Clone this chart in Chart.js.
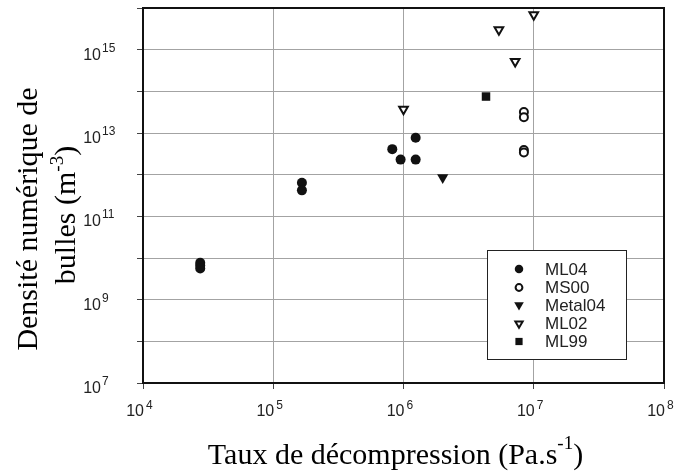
<!DOCTYPE html>
<html>
<head>
<meta charset="utf-8">
<script src="https://cdn.jsdelivr.net/npm/chart.js@4.4.1/dist/chart.umd.min.js"></script>
<style>
  html, body { margin: 0; padding: 0; background: #fff; }
</style>
</head>
<body>
<canvas id="bullesChart" width="679" height="475"></canvas>
<script>
// --- donnees ---
const seriesNames = ['ML04', 'MS00', 'Metal04', 'ML02', 'ML99'];

const ml04X = [2.75e4, 2.75e4, 2.75e4, 1.66e5, 1.66e5, 8.2e5, 9.5e5, 1.24e6, 1.24e6];
const ml04Y = [7.7e9, 6.6e9, 5.6e9, 6.4e11, 4.2e11, 4.1e12, 2.3e12, 7.7e12, 2.3e12];

const ms00X = [8.4e6, 8.4e6, 8.4e6, 8.4e6];
const ms00Y = [3.2e13, 2.4e13, 3.9e12, 3.4e12];

const metal04X = [2.0e6];
const metal04Y = [8.5e11];

const ml02X = [1.0e6, 5.4e6, 7.2e6, 1.0e7];
const ml02Y = [3.7e13, 3.0e15, 5.2e14, 6.9e15];

const ml99X = [4.3e6];
const ml99Y = [7.5e13];

const xTicks = [1e4, 1e5, 1e6, 1e7, 1e8];
const yTicks = [1e7, 1e8, 1e9, 1e10, 1e11, 1e12, 1e13, 1e14, 1e15, 1e16];
const yLabelled = [1e7, 1e9, 1e11, 1e13, 1e15];

function pts(xs, ys) {
    return xs.map((x, i) => ({ x: x, y: ys[i] }));
}

const SANS = '"Liberation Sans", Arial, sans-serif';
const SERIF = '"Liberation Serif", "Times New Roman", serif';

// texte avec exposant
function supText(ctx, parts, x, y) {
    // parts: [text, font, dy]
    let cx = x;
    parts.forEach(p => {
        ctx.font = p[1];
        ctx.fillText(p[0], cx, y + p[2]);
        cx += ctx.measureText(p[0]).width;
    });
    return cx - x;
}
function supWidth(ctx, parts) {
    let w = 0;
    parts.forEach(p => { ctx.font = p[1]; w += ctx.measureText(p[0]).width; });
    return w;
}

const decor = {
    id: 'decor',
    beforeDatasetsDraw(chart) {
        const { ctx, chartArea: a } = chart;
        ctx.save();
        ctx.strokeStyle = '#111';
        ctx.lineWidth = 2;
        ctx.strokeRect(a.left, a.top, a.right - a.left, a.bottom - a.top);
        ctx.restore();
    },
    afterDraw(chart) {
        const ctx = chart.ctx;
        const xs = chart.scales.x, ys = chart.scales.y;
        ctx.save();
        ctx.fillStyle = '#222';
        ctx.textBaseline = 'alphabetic';

        // etiquettes axe x
        xTicks.forEach(v => {
            const px = xs.getPixelForValue(v);
            const e = Math.round(Math.log10(v));
            ctx.font = '16px ' + SANS;
            ctx.textAlign = 'right';
            ctx.fillText('10', px + 1, 416);
            ctx.font = '12px ' + SANS;
            ctx.textAlign = 'left';
            ctx.fillText(String(e), px + 3, 409);
        });

        // etiquettes axe y
        yLabelled.forEach(v => {
            const py = ys.getPixelForValue(v);
            const e = Math.round(Math.log10(v));
            ctx.font = '16px ' + SANS;
            ctx.textAlign = 'right';
            ctx.fillText('10', 101, py + 10);
            ctx.font = '12px ' + SANS;
            ctx.textAlign = 'left';
            ctx.fillText(String(e), 102, py + 2);
        });

        // titre axe x
        ctx.fillStyle = '#000';
        ctx.textAlign = 'left';
        const big = '30px ' + SERIF, small = '19px ' + SERIF;
        const xt = [['Taux de décompression (Pa.s', big, 0], ['-1', small, -15], [')', big, 0]];
        const wx = supWidth(ctx, xt);
        supText(ctx, xt, 395.5 - wx / 2, 464);

        // titre axe y (deux lignes, tourne)
        const l1 = [['Densité numérique de', big, 0]];
        const l2 = [['bulles (m', big, 0], ['-3', small, -12], [')', big, 0]];
        ctx.save();
        ctx.translate(36.5, 219);
        ctx.rotate(-Math.PI / 2);
        supText(ctx, l1, -supWidth(ctx, l1) / 2, 0);
        ctx.restore();
        ctx.save();
        ctx.translate(75, 215);
        ctx.rotate(-Math.PI / 2);
        supText(ctx, l2, -supWidth(ctx, l2) / 2, 0);
        ctx.restore();

        // legende
        ctx.fillStyle = '#fff';
        ctx.fillRect(487.5, 250.5, 139, 109);
        ctx.strokeStyle = '#222';
        ctx.lineWidth = 1;
        ctx.strokeRect(487.5, 250.5, 139, 109);
        const rows = [269, 287.5, 305, 323.5, 341.5];
        chart.data.datasets.forEach((ds, i) => {
            ctx.fillStyle = ds.backgroundColor;
            ctx.strokeStyle = ds.borderColor;
            ctx.lineWidth = ds.borderWidth;
            Chart.helpers.drawPoint(ctx, {
                pointStyle: ds.pointStyle,
                rotation: ds.rotation || 0,
                radius: ds.pointRadius * 0.85,
                borderWidth: ds.borderWidth
            }, 519, rows[i]);
            ctx.fillStyle = '#222';
            ctx.font = '17px ' + SANS;
            ctx.textAlign = 'left';
            ctx.textBaseline = 'middle';
            ctx.fillText(ds.label, 545, rows[i] + 1);
        });
        ctx.restore();
    }
};

function axis(min, max, ticks) {
    return {
        type: 'logarithmic',
        min: min,
        max: max,
        afterBuildTicks: s => { s.ticks = ticks.map(v => ({ value: v })); },
        ticks: { display: false },
        grid: { color: '#a3a3a3', lineWidth: 1, drawTicks: true, tickLength: 6, tickColor: '#444' },
        border: { display: false }
    };
}

new Chart(document.getElementById('bullesChart'), {
    type: 'scatter',
    data: {
        datasets: [
            { label: seriesNames[0], data: pts(ml04X, ml04Y), pointStyle: 'circle', pointRadius: 5,
              backgroundColor: '#111', borderColor: '#111', borderWidth: 0 },
            { label: seriesNames[1], data: pts(ms00X, ms00Y), pointStyle: 'circle', pointRadius: 4,
              backgroundColor: '#fff', borderColor: '#111', borderWidth: 2 },
            { label: seriesNames[2], data: pts(metal04X, metal04Y), pointStyle: 'triangle', pointRadius: 6.5,
              rotation: 180, backgroundColor: '#111', borderColor: '#111', borderWidth: 0 },
            { label: seriesNames[3], data: pts(ml02X, ml02Y), pointStyle: 'triangle', pointRadius: 5,
              rotation: 180, backgroundColor: '#fff', borderColor: '#111', borderWidth: 2 },
            { label: seriesNames[4], data: pts(ml99X, ml99Y), pointStyle: 'rect', pointRadius: 6,
              backgroundColor: '#111', borderColor: '#111', borderWidth: 0 }
        ]
    },
    options: {
        responsive: false,
        animation: false,
        layout: { padding: { left: 137, right: 15, top: 8, bottom: 86 } },
        plugins: { legend: { display: false }, tooltip: { enabled: false } },
        scales: {
            x: axis(1e4, 1e8, xTicks),
            y: axis(1e7, 1e16, yTicks)
        }
    },
    plugins: [decor]
});
</script>
</body>
</html>
